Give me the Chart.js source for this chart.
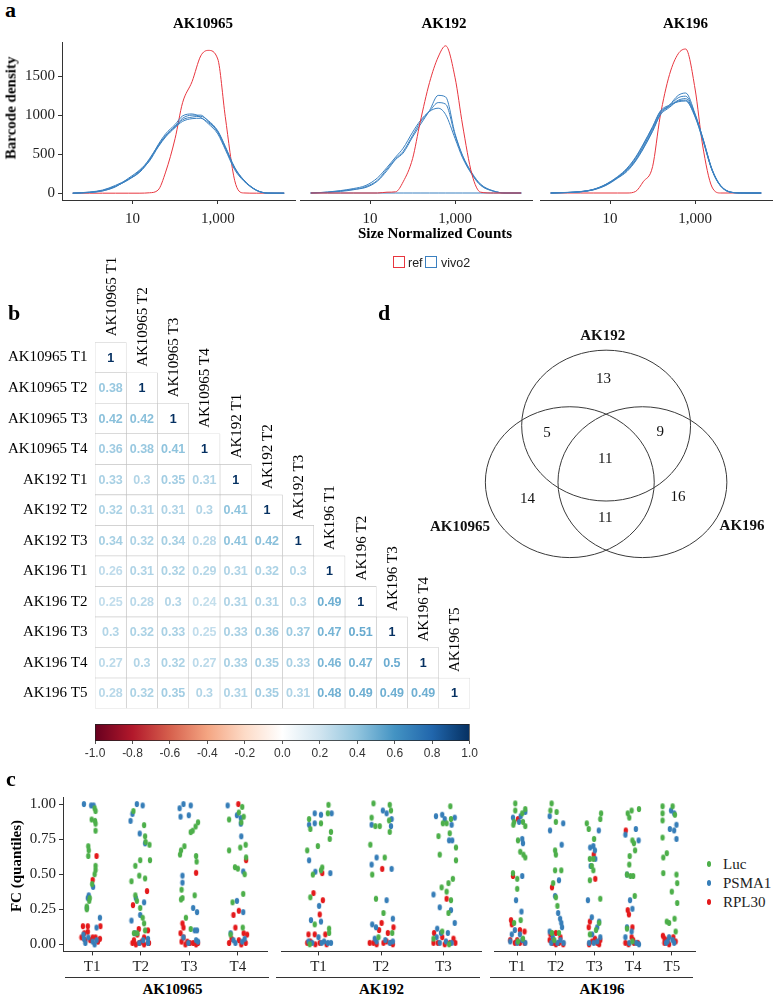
<!DOCTYPE html>
<html><head><meta charset="utf-8">
<script src="https://cdn.jsdelivr.net/npm/chart.js@4.4.1/dist/chart.umd.min.js"></script>
<style>
html,body{margin:0;padding:0;background:#fff;}
#root{position:relative;width:776px;height:1000px;overflow:hidden;background:#fff;}
canvas{position:absolute;}
.t{position:absolute;white-space:nowrap;line-height:1;color:#000;}
</style></head><body><div id="root"></div>
<script>
// ---------------- DATA ----------------
// Panel a: density curves (x = size-normalized counts, y = barcode density)
const densityCounts = [0.4,1,2,4,8,15,25,40,60,100,150,250,400,600,1000,1500,2500,4000,8000,15000,36000];
const facetNames = ['AK10965','AK192','AK196'];
const ak10965Ref = [0,0,0,0,0,0,5,40,270,700,1160,1430,1760,1830,1720,980,160,3,0,0,0];
const ak10965Vivo2 = [
  [0,15,40,100,180,270,420,620,760,880,990,1015,970,890,760,560,300,160,35,0,0],
  [0,10,35,90,170,280,440,610,740,860,960,1000,1000,920,780,580,320,170,40,2,0],
  [0,12,30,80,190,300,430,600,730,850,940,975,985,930,800,600,330,175,40,2,0],
  [0,8,28,85,175,290,410,590,720,840,920,955,960,905,790,590,320,170,38,1,0]
];
const ak192Ref = [0,0,0,0,0,0,10,15,140,430,880,1380,1700,1840,1440,850,230,10,0,0,0];
const ak192Vivo2 = [
  [0,10,25,45,70,150,280,420,500,700,850,1030,1220,1200,740,470,250,110,25,0,0],
  [0,8,20,40,80,160,300,430,520,720,880,1020,1130,1110,720,460,240,100,25,0,0],
  [0,12,30,55,95,190,320,450,560,760,900,1020,1060,980,680,440,230,95,22,0,0],
  [0,0,0,0,0,0,0,0,0,0,0,0,0,0,0,0,0,0,0,0,0]
];
const ak196Ref = [0,0,0,0,0,0,0,20,140,330,950,1480,1740,1800,1300,600,75,0,0,0,0];
const ak196Vivo2 = [
  [0,8,18,45,110,200,290,420,580,800,1000,1100,1220,1250,990,690,290,90,5,0,0],
  [0,6,15,40,100,190,280,410,560,780,980,1090,1190,1210,980,700,300,95,6,0,0],
  [0,7,17,42,105,195,300,440,600,820,1010,1080,1160,1180,970,690,295,90,5,0,0],
  [0,5,14,38,95,185,270,400,550,770,970,1070,1150,1160,960,680,290,88,5,0,0],
  [0,6,16,44,108,205,310,450,610,830,1020,1100,1140,1150,950,670,285,85,4,0,0]
];
const densityXTicks = [10, 1000];
const densityYTicks = [0, 500, 1000, 1500];

// Panel b: correlation matrix (lower triangle)
const sampleNames = ['AK10965 T1','AK10965 T2','AK10965 T3','AK10965 T4','AK192 T1','AK192 T2','AK192 T3','AK196 T1','AK196 T2','AK196 T3','AK196 T4','AK196 T5'];
const corrRows = [
  [1],
  [0.38,1],
  [0.42,0.42,1],
  [0.36,0.38,0.41,1],
  [0.33,0.3,0.35,0.31,1],
  [0.32,0.31,0.31,0.3,0.41,1],
  [0.34,0.32,0.34,0.28,0.41,0.42,1],
  [0.26,0.31,0.32,0.29,0.31,0.32,0.3,1],
  [0.25,0.28,0.3,0.24,0.31,0.31,0.3,0.49,1],
  [0.3,0.32,0.33,0.25,0.33,0.36,0.37,0.47,0.51,1],
  [0.27,0.3,0.32,0.27,0.33,0.35,0.33,0.46,0.47,0.5,1],
  [0.28,0.32,0.35,0.3,0.31,0.35,0.31,0.48,0.49,0.49,0.49,1]
];
const colorbarTicks = [-1,-0.8,-0.6,-0.4,-0.2,0,0.2,0.4,0.6,0.8,1];

// Panel d: Venn diagram
const vennSets = ['AK10965','AK192','AK196'];
const vennCenterX = [-0.43, 0, 0.43];
const vennCenterY = [-0.25, 0.5, -0.25];
const vennRadius = [1, 1, 1];
const vennLabelX = [-1.73, -0.04, 1.61];
const vennLabelY = [-0.85, 1.68, -0.83];
const vennCounts = [13, 5, 9, 11, 14, 16, 11];
const vennCountX = [-0.03, -0.70, 0.64, -0.01, -0.93, 0.85, -0.01];
const vennCountY = [1.12, 0.40, 0.41, 0.05, -0.48, -0.45, -0.72];

// Panel c: FC quantiles per tumour ([jitter offset, FC quantile] per point)
const genes = ['Luc','PSMA1','RPL30'];
const ak10965Cats = ['T1','T2','T3','T4'];
const ak192Cats = ['T1','T2','T3'];
const ak196Cats = ['T1','T2','T3','T4','T5'];
const ak10965Luc = [
 [[0.05,0.97],[0.07,0.95],[-0.01,0.89],[0.06,0.88],[0.07,0.86],[0.07,0.81],[-0.08,0.70],[-0.07,0.67],[-0.08,0.63],[0.07,0.56],[0.07,0.53],[0.05,0.50],[0.00,0.43],[-0.05,0.33],[-0.06,0.31],[-0.11,0.27],[-0.11,0.25]],
 [[-0.15,0.95],[0.07,0.85],[0.09,0.77],[0.10,0.73],[0.18,0.71],[0.19,0.60],[-0.01,0.60],[-0.11,0.56],[-0.03,0.49],[0.09,0.47],[-0.19,0.45],[-0.11,0.35],[-0.08,0.31],[-0.01,0.26],[0.04,0.19],[0.07,0.15],[0.09,0.10],[-0.14,0.08],[-0.07,0.08]],
 [[0.18,0.87],[0.13,0.84],[0.07,0.81],[0.03,0.80],[-0.10,0.70],[-0.17,0.67],[-0.19,0.64],[0.14,0.63],[0.15,0.59],[-0.16,0.39],[-0.14,0.33],[-0.17,0.32],[0.11,0.35],[-0.07,0.19],[0.03,0.11]],
 [[0.09,0.98],[0.02,0.94],[0.12,0.91],[-0.18,0.89],[0.07,0.87],[0.16,0.71],[0.05,0.69],[-0.18,0.67],[0.17,0.62],[-0.06,0.55],[0.00,0.54],[0.14,0.50],[0.11,0.36],[-0.11,0.30],[0.10,0.12],[-0.15,0.07]]
];
const ak10965Psma1 = [
 [[-0.17,1.00],[-0.02,0.99],[0.03,0.99],[0.02,0.41],[-0.07,0.35],[-0.09,0.33],[-0.11,0.26],[0.16,0.19],[0.09,0.12],[-0.18,0.07],[-0.14,0.01],[0.01,0.02],[0.09,0.03],[-0.17,0.04],[0.05,0.00],[-0.08,0.05]],
 [[-0.21,0.88],[-0.17,0.93],[-0.08,1.00],[0.04,0.99],[-0.02,0.79],[0.09,0.72],[-0.10,0.33],[0.07,0.30],[-0.01,0.21],[-0.19,0.17],[-0.12,0.08],[-0.03,0.01],[0.15,0.01],[0.05,0.03],[0.15,0.04]],
 [[-0.20,0.97],[-0.12,1.00],[0.03,0.99],[-0.18,0.91],[-0.01,0.92],[-0.14,0.49],[-0.14,0.44],[0.08,0.26],[0.16,0.23],[0.11,0.10],[0.16,0.10],[-0.02,0.01],[0.14,0.03],[0.18,0.02],[-0.12,0.05]],
 [[-0.21,0.99],[-0.02,0.92],[0.06,0.90],[0.06,0.86],[0.07,0.77],[0.11,0.52],[-0.02,0.31],[0.11,0.23],[-0.15,0.08],[-0.05,0.01],[0.09,0.02],[0.14,0.04],[-0.09,0.03]]
];
const ak10965Rpl30 = [
 [[0.09,0.63],[0.01,0.46],[-0.19,0.13],[-0.09,0.13],[0.17,0.13],[-0.09,0.09],[-0.22,0.05],[-0.14,0.03],[-0.04,0.03],[0.07,0.05],[0.12,0.02],[0.16,0.04],[-0.16,0.08],[0.01,0.05]],
 [[-0.16,0.28],[0.13,0.38],[-0.04,0.11],[0.15,0.10],[-0.07,0.07],[0.07,0.05],[-0.17,0.01],[-0.10,0.00],[-0.03,0.01],[0.07,0.00],[0.17,0.01],[0.02,0.02],[-0.14,0.03]],
 [[0.14,0.51],[-0.14,0.15],[-0.12,0.12],[-0.18,0.08],[-0.12,0.05],[-0.04,0.02],[0.01,0.01],[0.08,0.01],[0.18,0.01],[-0.16,0.02],[0.14,0.00],[-0.08,0.00]],
 [[0.01,1.00],[0.17,0.60],[-0.09,0.21],[0.02,0.24],[-0.05,0.12],[0.12,0.08],[-0.18,0.01],[0.02,0.03],[0.16,0.01],[0.19,0.07],[-0.13,0.04],[0.07,0.00]]
];
const ak192Luc = [
 [[0.16,0.98],[0.15,0.92],[-0.15,0.88],[-0.13,0.81],[0.04,0.85],[0.20,0.79],[0.18,0.74],[-0.18,0.66],[-0.01,0.69],[0.06,0.54],[0.04,0.52],[-0.09,0.49],[-0.13,0.33],[-0.06,0.14],[0.17,0.11],[0.17,0.08],[-0.14,0.00]],
 [[-0.12,0.99],[0.14,0.98],[0.16,0.94],[0.13,0.87],[-0.15,0.89],[-0.09,0.83],[-0.02,0.83],[0.14,0.79],[-0.17,0.70],[0.06,0.61],[-0.14,0.49],[-0.08,0.32],[0.04,0.22],[0.18,0.08],[-0.04,0.05]],
 [[0.11,0.97],[0.12,0.88],[-0.01,0.85],[0.05,0.85],[-0.08,0.76],[0.10,0.78],[0.20,0.68],[-0.06,0.63],[0.20,0.59],[0.15,0.46],[0.08,0.43],[-0.03,0.40],[0.05,0.37],[0.12,0.31],[0.08,0.22],[-0.16,0.04],[-0.02,0.09],[0.09,0.00]]
];
const ak192Psma1 = [
 [[-0.06,0.92],[-0.15,0.84],[-0.06,0.85],[0.04,0.91],[0.21,0.92],[-0.15,0.59],[-0.05,0.51],[0.19,0.50],[0.01,0.27],[0.04,0.16],[-0.12,0.17],[0.00,0.05],[0.09,0.02],[0.15,0.01],[0.20,0.01],[-0.16,0.02],[-0.10,0.01],[0.05,0.01]],
 [[0.03,0.94],[0.09,0.92],[0.17,0.88],[-0.15,0.84],[0.16,0.83],[-0.07,0.61],[-0.15,0.56],[0.17,0.53],[0.09,0.31],[-0.14,0.14],[-0.08,0.12],[0.19,0.18],[0.07,0.03],[0.14,0.01],[-0.07,0.02],[-0.10,0.04],[0.19,0.02]],
 [[-0.12,0.90],[-0.02,0.91],[0.02,0.88],[0.18,0.89],[0.13,0.84],[0.09,0.73],[0.14,0.73],[-0.16,0.35],[-0.06,0.26],[0.12,0.24],[0.18,0.15],[-0.10,0.11],[-0.04,0.08],[0.07,0.08],[-0.11,0.05],[0.13,0.01],[-0.06,0.01],[0.04,0.02]]
];
const ak192Rpl30 = [
 [[0.06,0.50],[-0.08,0.36],[0.07,0.31],[0.02,0.21],[-0.16,0.07],[-0.06,0.07],[0.11,0.07],[-0.18,0.01],[-0.13,0.02],[-0.05,0.00],[0.02,0.01],[0.13,0.00]],
 [[0.02,0.53],[0.01,0.15],[0.20,0.12],[-0.03,0.10],[0.11,0.08],[-0.18,0.01],[-0.12,0.01],[-0.07,0.00],[0.04,0.01],[0.09,0.02],[0.19,0.00],[0.16,0.01]],
 [[0.05,0.32],[-0.15,0.08],[-0.02,0.05],[-0.16,0.01],[-0.09,0.01],[0.10,0.01],[0.19,0.01],[0.16,0.04],[0.02,0.00]]
];
const ak196Luc = [
 [[-0.05,0.99],[-0.05,0.94],[0.21,0.95],[0.13,0.92],[-0.08,0.86],[-0.10,0.84],[0.21,0.83],[0.15,0.86],[0.02,0.73],[0.08,0.65],[0.16,0.63],[0.21,0.61],[-0.11,0.50],[0.00,0.46],[0.00,0.39],[-0.08,0.15],[0.09,0.17],[0.02,0.02],[0.15,0.04]],
 [[-0.11,0.99],[-0.14,0.94],[0.02,0.93],[0.00,0.86],[-0.02,0.66],[0.00,0.63],[-0.02,0.52],[0.14,0.52],[-0.07,0.43],[0.00,0.33],[0.04,0.27],[-0.10,0.08],[0.08,0.08],[-0.04,0.03]],
 [[0.17,0.92],[0.15,0.88],[-0.20,0.85],[-0.15,0.81],[-0.01,0.74],[-0.12,0.60],[-0.03,0.60],[-0.07,0.55],[-0.03,0.52],[-0.12,0.45],[0.15,0.32],[0.12,0.15],[0.04,0.10],[-0.12,0.07]],
 [[-0.14,0.92],[-0.04,0.94],[0.15,0.95],[-0.10,0.89],[-0.02,0.73],[0.02,0.71],[0.05,0.66],[-0.09,0.62],[-0.10,0.56],[-0.16,0.49],[-0.07,0.48],[0.00,0.48],[0.04,0.34],[-0.16,0.11],[-0.02,0.02]],
 [[-0.24,0.97],[-0.24,0.92],[0.02,0.97],[0.08,0.91],[-0.24,0.87],[-0.24,0.75],[-0.13,0.64],[-0.22,0.61],[0.12,0.49],[-0.22,0.50],[0.14,0.43],[0.00,0.37],[0.14,0.29],[-0.13,0.16],[-0.07,0.15],[0.07,0.18],[0.10,0.09]]
];
const ak196Psma1 = [
 [[-0.11,0.89],[0.09,0.90],[0.21,0.93],[0.05,0.86],[0.13,0.74],[0.15,0.71],[0.13,0.48],[-0.03,0.31],[0.11,0.23],[-0.14,0.07],[-0.06,0.10],[0.07,0.07],[0.13,0.03],[0.00,0.01],[-0.18,0.02],[0.21,0.01]],
 [[-0.16,0.90],[0.19,0.85],[-0.15,0.80],[0.15,0.70],[0.08,0.45],[-0.02,0.34],[0.06,0.22],[0.11,0.18],[0.14,0.15],[0.16,0.12],[-0.16,0.09],[-0.08,0.05],[0.12,0.03],[0.04,0.01],[-0.12,0.01],[0.20,0.01]],
 [[0.11,0.80],[-0.03,0.69],[-0.11,0.68],[0.01,0.66],[0.02,0.60],[-0.10,0.55],[-0.17,0.31],[-0.07,0.19],[0.12,0.16],[0.07,0.12],[-0.06,0.07],[0.07,0.02],[0.15,0.05],[-0.14,0.01],[-0.02,0.01]],
 [[-0.20,0.77],[0.07,0.81],[0.14,0.73],[-0.16,0.49],[-0.08,0.31],[-0.02,0.25],[-0.16,0.12],[-0.04,0.09],[-0.20,0.05],[-0.10,0.01],[0.08,0.01],[0.15,0.00]],
 [[-0.02,0.94],[0.06,0.92],[-0.05,0.81],[0.06,0.80],[0.12,0.84],[0.12,0.74],[-0.07,0.05],[-0.15,0.01],[0.06,0.01],[0.02,0.03],[-0.11,0.02]]
];
const ak196Rpl30 = [
 [[0.02,0.88],[-0.11,0.48],[-0.16,0.17],[-0.14,0.14],[0.07,0.10],[0.19,0.09],[-0.18,0.03],[-0.06,0.01],[0.07,0.01],[0.19,0.01],[0.00,0.03]],
 [[-0.10,0.40],[-0.14,0.07],[-0.08,0.01],[0.00,0.00],[0.08,0.01],[0.19,0.00],[-0.16,0.03],[0.12,0.05],[0.00,0.08]],
 [[-0.02,0.63],[0.02,0.46],[-0.12,0.16],[-0.15,0.12],[-0.06,0.02],[0.07,0.01],[0.12,0.00],[-0.14,0.00],[0.01,0.04],[0.15,0.03]],
 [[-0.19,0.80],[-0.14,0.24],[-0.11,0.21],[-0.02,0.12],[-0.04,0.05],[-0.20,0.01],[-0.12,0.00],[0.02,0.01],[0.12,0.01],[0.00,0.03]],
 [[-0.23,0.06],[-0.19,0.04],[0.10,0.02],[0.04,0.05],[-0.07,0.00],[-0.19,0.01],[-0.11,0.03]]
];
const fcTicks = [0, 0.25, 0.5, 0.75, 1];

// ---------------- STYLE / HELPERS ----------------
const SERIF = "'Liberation Serif','Times New Roman',serif";
const SANS = "'Liberation Sans',Arial,sans-serif";
const RED = '#E8363F', BLUE = '#3A80C0';
const GENE_COLORS = ['#4DAF4A','#377EB8','#E41A1C'];
const AXIS = '#333333';
const RDBU = ['#67001F','#B2182B','#D6604D','#F4A582','#FDDBC7','#FFFFFF','#D1E5F0','#92C5DE','#4393C3','#2166AC','#053061'];
Chart.defaults.font.family = SERIF;
Chart.defaults.animation = false;
const root = document.getElementById('root');

function mkCanvas(left, top, w, h) {
  const c = document.createElement('canvas');
  c.width = w; c.height = h;
  c.style.left = left + 'px'; c.style.top = top + 'px';
  c.style.width = w + 'px'; c.style.height = h + 'px';
  root.appendChild(c);
  return c;
}
function txt(s, x, y, o = {}) {
  const d = document.createElement('div');
  d.className = 't';
  d.textContent = s;
  const size = o.size || 15;
  d.style.fontFamily = o.family || SERIF;
  d.style.fontSize = size + 'px';
  d.style.fontWeight = o.bold ? 'bold' : 'normal';
  d.style.color = o.color || '#000';
  d.style.left = x + 'px'; d.style.top = y + 'px';
  const tx = o.align === 'left' ? '0' : (o.align === 'right' ? '-100%' : '-50%');
  d.style.transform = `translate(${tx},-50%)` + (o.rotate ? ' rotate(-90deg)' : '');
  root.appendChild(d);
  return d;
}
function hexToRgb(h) { const n = parseInt(h.slice(1), 16); return [(n >> 16) & 255, (n >> 8) & 255, n & 255]; }
function rdbu(v) {
  const p = (v + 1) / 2 * (RDBU.length - 1);
  const i = Math.min(Math.floor(p), RDBU.length - 2);
  const f = p - i;
  const a = hexToRgb(RDBU[i]), b = hexToRgb(RDBU[i + 1]);
  return `rgb(${a.map((c, k) => Math.round(c + (b[k] - c) * f)).join(',')})`;
}
const baseOpts = {responsive: false, animation: false, devicePixelRatio: 1,
  plugins: {legend: {display: false}, tooltip: {enabled: false}}, events: []};

// ---------------- PANEL a ----------------
function densityChart(left, width, padRight, showY, ref, vivo, refFirst) {
  const cv = mkCanvas(left, 30, width, 205);
  const mk = (vals, color) => ({data: densityCounts.map((c, i) => ({x: c, y: vals[i]})),
    borderColor: color, borderWidth: 1, pointRadius: 0, fill: false, cubicInterpolationMode: 'monotone'});
  const blues = vivo.map(v => mk(v, BLUE));
  const red = mk(ref, RED);
  const datasets = refFirst ? [red, ...blues] : [...blues, red];
  const yScale = {display: showY, min: -87.5, max: 1937.5,
    afterBuildTicks: s => { s.ticks = densityYTicks.map(v => ({value: v})); },
    ticks: {callback: v => String(v), font: {family: SERIF, size: 15}, color: '#222', padding: 3},
    grid: {drawOnChartArea: false, drawTicks: true, tickLength: 4, color: AXIS},
    border: {display: true, color: AXIS, width: 1}};
  if (showY) yScale.afterFit = s => { s.width = 62; };
  new Chart(cv, {type: 'line', data: {datasets},
    options: {...baseOpts, layout: {padding: {top: 8, right: padRight, left: 0, bottom: 0}},
      scales: {
        x: {type: 'logarithmic', min: 0.224, max: 64565,
          afterBuildTicks: s => { s.ticks = densityXTicks.map(v => ({value: v})); },
          ticks: {callback: v => Number(v).toLocaleString('en-US'), font: {family: SERIF, size: 15}, color: '#222', padding: 6, maxRotation: 0, autoSkip: false},
          grid: {drawOnChartArea: false, drawTicks: true, tickLength: 4, color: AXIS},
          border: {display: true, color: AXIS, width: 1},
          afterFit: s => { s.height = 35; }},
        y: yScale
      }}});
}
densityChart(0, 300, 5, true, ak10965Ref, ak10965Vivo2, false);
densityChart(300, 240, 8, false, ak192Ref, ak192Vivo2, true);
densityChart(540, 236, 4, false, ak196Ref, ak196Vivo2, false);

txt('a', 5, 9.6, {size: 22, bold: true, align: 'left'});
txt(facetNames[0], 203, 23, {bold: true});
txt(facetNames[1], 444, 23, {bold: true});
txt(facetNames[2], 685.5, 23, {bold: true});
txt('Barcode density', 11, 108, {bold: true, rotate: true});
txt('Size Normalized Counts', 435, 233, {bold: true});
(function legendA() {
  const items = [['ref', RED, 393, 408], ['vivo2', BLUE, 425, 441]];
  items.forEach(([lab, col, bx, tx]) => {
    const b = document.createElement('div');
    b.style.cssText = `position:absolute;left:${bx}px;top:256px;width:10px;height:10px;border:1.5px solid ${col};`;
    root.appendChild(b);
    txt(lab, tx, 262.5, {family: SANS, size: 12.5, align: 'left', color: '#222'});
  });
})();

// ---------------- PANEL b ----------------
(function heatmap() {
  const cv = mkCanvas(0, 245, 480, 480);
  const n = sampleNames.length;
  const textPlugin = {id: 'corrText', afterDatasetsDraw(chart) {
    const ctx = chart.ctx;
    const ys = chart.scales.y, xs = chart.scales.x;
    const band = (chart.chartArea.bottom - chart.chartArea.top) / n;
    ctx.save();
    chart.data.datasets.forEach((ds, j) => {
      const meta = chart.getDatasetMeta(j);
      meta.data.forEach((el, i) => {
        if (i < j) return;
        const v = corrRows[i][j];
        const p = el.getCenterPoint();
        ctx.fillStyle = rdbu(v);
        ctx.font = `bold 12.5px ${SANS}`;
        ctx.textAlign = 'center'; ctx.textBaseline = 'middle';
        ctx.fillText(String(v), p.x, p.y + 0.5);
      });
      const xc = xs.getPixelForValue(j + 0.5);
      const top = ys.getPixelForValue(j) - band / 2;
      ctx.save();
      ctx.translate(xc + 1, top - 6);
      ctx.rotate(-Math.PI / 2);
      ctx.font = `15px ${SERIF}`; ctx.fillStyle = '#000';
      ctx.textAlign = 'left'; ctx.textBaseline = 'middle';
      ctx.fillText(sampleNames[j], 0, 0);
      ctx.restore();
    });
    ctx.restore();
  }};
  new Chart(cv, {type: 'bar',
    data: {labels: sampleNames, datasets: sampleNames.map((nm, j) => ({label: nm,
      data: sampleNames.map((m, i) => (i >= j ? [j, j + 1] : null)),
      backgroundColor: '#ffffff', borderColor: '#c4c4c4', borderWidth: 0.6, borderSkipped: false,
      barPercentage: 1, categoryPercentage: 1, grouped: false}))},
    options: {...baseOpts, indexAxis: 'y', layout: {padding: {top: 97.3, right: 10, bottom: 7.7, left: 0}},
      scales: {
        x: {type: 'linear', min: 0, max: n, display: false},
        y: {ticks: {font: {family: SERIF, size: 15}, color: '#000', padding: 7.5, autoSkip: false},
          grid: {display: false, drawTicks: false}, border: {display: false},
          afterFit: s => { s.width = 95; }}
      }},
    plugins: [textPlugin]});
})();

(function colorbar() {
  const cv = mkCanvas(0, 716, 480, 50);
  new Chart(cv, {type: 'bar',
    data: {labels: [''], datasets: [{data: [[-1, 1]],
      backgroundColor: ctx => {
        const ca = ctx.chart.chartArea;
        if (!ca) return '#fff';
        const g = ctx.chart.ctx.createLinearGradient(ca.left, 0, ca.right, 0);
        RDBU.forEach((c, i) => g.addColorStop(i / (RDBU.length - 1), c));
        return g;
      },
      borderColor: '#222', borderWidth: 1, borderSkipped: false, barPercentage: 1, categoryPercentage: 1}]},
    options: {...baseOpts, indexAxis: 'y', layout: {padding: {top: 8, left: 95, right: 10, bottom: 0}},
      scales: {
        x: {type: 'linear', min: -1, max: 1,
          afterBuildTicks: s => { s.ticks = colorbarTicks.map(v => ({value: v})); },
          ticks: {callback: v => Number(v).toFixed(1), font: {family: SANS, size: 12}, color: '#333', padding: 2, maxRotation: 0, autoSkip: false},
          grid: {drawOnChartArea: false, drawTicks: true, tickLength: 3, color: '#555'},
          border: {display: false},
          afterFit: s => { s.height = 25; }},
        y: {display: false}
      }}});
})();
txt('b', 8, 312.6, {size: 22, bold: true, align: 'left'});

// ---------------- PANEL d ----------------
(function venn() {
  const cv = mkCanvas(395, 320, 380, 264);
  const vennPlugin = {id: 'venn', afterDatasetsDraw(chart) {
    const ctx = chart.ctx, xs = chart.scales.x, ys = chart.scales.y;
    ctx.save();
    const cMeta = chart.getDatasetMeta(0);
    cMeta.data.forEach((el, i) => {
      const rx = xs.getPixelForValue(vennCenterX[i] + vennRadius[i]) - el.x;
      const ry = el.y - ys.getPixelForValue(vennCenterY[i] + vennRadius[i]);
      ctx.beginPath(); ctx.ellipse(el.x, el.y, rx, ry, 0, 0, Math.PI * 2);
      ctx.strokeStyle = '#3a3a3a'; ctx.lineWidth = 1; ctx.stroke();
    });
    ctx.textAlign = 'center'; ctx.textBaseline = 'middle'; ctx.fillStyle = '#111';
    ctx.font = `bold 15px ${SERIF}`;
    chart.getDatasetMeta(1).data.forEach((el, i) => ctx.fillText(vennSets[i], el.x, el.y));
    ctx.font = `15px ${SERIF}`;
    chart.getDatasetMeta(2).data.forEach((el, i) => ctx.fillText(String(vennCounts[i]), el.x, el.y));
    ctx.restore();
  }};
  new Chart(cv, {type: 'scatter',
    data: {datasets: [
      {data: vennCenterX.map((x, i) => ({x, y: vennCenterY[i]})), pointRadius: 0},
      {data: vennLabelX.map((x, i) => ({x, y: vennLabelY[i]})), pointRadius: 0},
      {data: vennCountX.map((x, i) => ({x, y: vennCountY[i]})), pointRadius: 0}
    ]},
    options: {...baseOpts, layout: {padding: 0},
      scales: {x: {type: 'linear', min: -2.5, max: 2, display: false}, y: {type: 'linear', min: -1.6, max: 1.9, display: false}}},
    plugins: [vennPlugin]});
})();
txt('d', 378, 312.6, {size: 22, bold: true, align: 'left'});

// ---------------- PANEL c ----------------
function makeDot(color) {
  const c = document.createElement('canvas');
  c.width = 6; c.height = 8;
  const g = c.getContext('2d');
  g.fillStyle = color;
  g.beginPath(); g.ellipse(3, 4, 2.2, 3.1, 0, 0, Math.PI * 2); g.fill();
  return c;
}
const dots = GENE_COLORS.map(makeDot);
function stripChart(left, width, padRight, showY, cats, luc, psma, rpl) {
  const cv = mkCanvas(left, 785, width, 190);
  const toPts = arr => arr.flatMap((grp, i) => grp.map(([o, y]) => ({x: i + o, y})));
  const datasets = [luc, psma, rpl].map((arr, g) => ({label: genes[g], data: toPts(arr),
    pointStyle: dots[g], pointRadius: 3, showLine: false}));
  const yScale = {display: showY, min: -0.05, max: 1.05,
    afterBuildTicks: s => { s.ticks = fcTicks.map(v => ({value: v})); },
    ticks: {callback: v => Number(v).toFixed(2), font: {family: SERIF, size: 15}, color: '#222', padding: 3},
    grid: {drawOnChartArea: false, drawTicks: true, tickLength: 4, color: AXIS},
    border: {display: true, color: AXIS, width: 1}};
  if (showY) yScale.afterFit = s => { s.width = 63; };
  new Chart(cv, {type: 'scatter', data: {datasets},
    options: {...baseOpts, layout: {padding: {top: 9.8, right: padRight, left: 0, bottom: 0}},
      scales: {
        x: {type: 'linear', min: -0.6, max: cats.length - 0.4,
          afterBuildTicks: s => { s.ticks = cats.map((c, i) => ({value: i})); },
          ticks: {callback: (v, i) => cats[i], font: {family: SERIF, size: 15}, color: '#222', padding: 3, maxRotation: 0, autoSkip: false},
          grid: {drawOnChartArea: false, drawTicks: true, tickLength: 4, color: AXIS},
          border: {display: true, color: AXIS, width: 1},
          afterFit: s => { s.height = 23.6; }},
        y: yScale
      }}});
}
stripChart(0, 272, 2, true, ak10965Cats, ak10965Luc, ak10965Psma1, ak10965Rpl30);
stripChart(276, 210, 3, false, ak192Cats, ak192Luc, ak192Psma1, ak192Rpl30);
stripChart(489, 211, 4, false, ak196Cats, ak196Luc, ak196Psma1, ak196Rpl30);

txt('c', 6, 778.6, {size: 22, bold: true, align: 'left'});
txt('FC (quantiles)', 16, 866, {bold: true, rotate: true});
[[65, 204, 172.5, facetNames[0]], [276, 204, 381.5, facetNames[1]], [490, 203, 602, facetNames[2]]].forEach(([l, w, cx, name]) => {
  const ln = document.createElement('div');
  ln.style.cssText = `position:absolute;left:${l}px;top:977px;width:${w}px;height:1px;background:${AXIS};`;
  root.appendChild(ln);
  txt(name, cx, 989, {bold: true});
});
genes.forEach((g, i) => {
  const y = [864, 882.7, 901.7][i];
  const d = document.createElement('div');
  d.style.cssText = `position:absolute;left:${709 - 2.3}px;top:${y - 3.2}px;width:4.6px;height:6.4px;border-radius:50%;background:${GENE_COLORS[i]};`;
  root.appendChild(d);
  txt(g, 723, y, {size: 15, align: 'left', color: '#222'});
});
</script></body></html>
